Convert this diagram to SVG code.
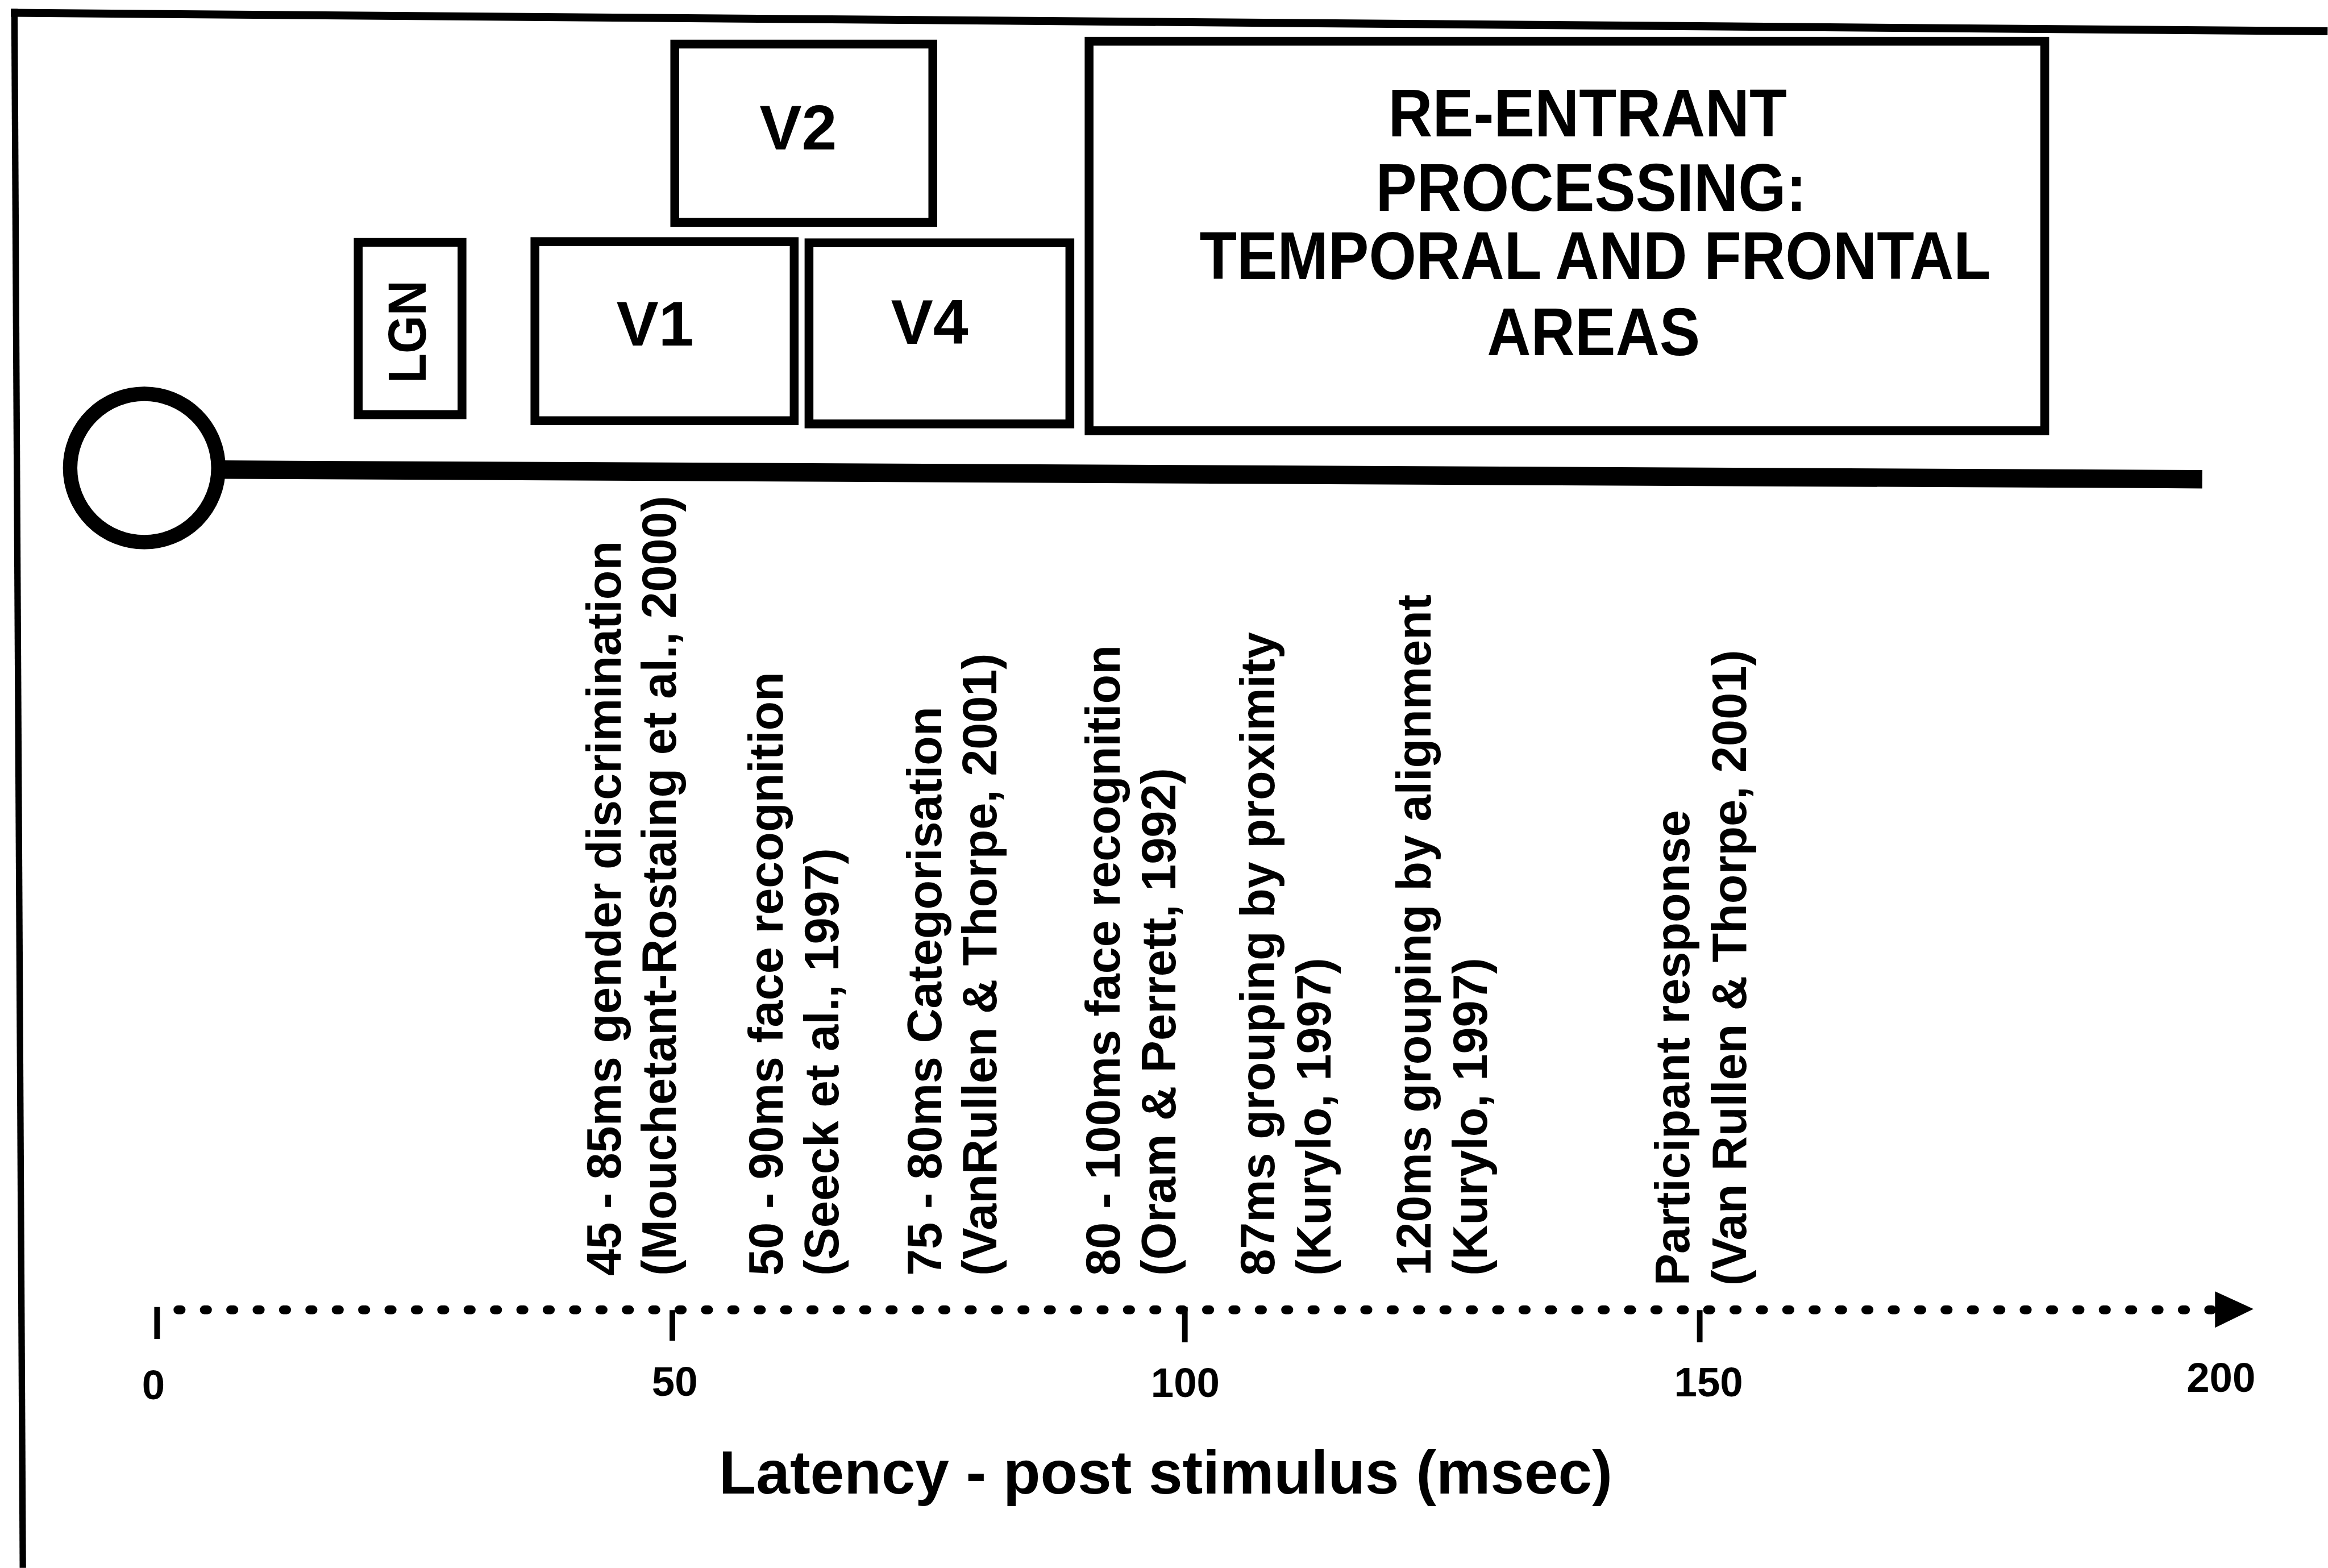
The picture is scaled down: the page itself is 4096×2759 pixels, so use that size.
<svg xmlns="http://www.w3.org/2000/svg" width="4096" height="2759" viewBox="0 0 4096 2759">
<style>
text{font-family:"Liberation Sans",Arial,Helvetica,sans-serif;font-weight:bold;fill:#000}
.box{fill:#fff;stroke:#000;stroke-width:22}
.area{font-size:158px;text-anchor:middle}
.re{font-size:168px;text-anchor:middle}
.ev{font-size:120px}
.tk{font-size:103px;text-anchor:middle}
.title{font-size:152px;text-anchor:middle}
.ln{stroke:#000;fill:none}
</style>
<rect width="4096" height="2759" fill="#fff"/>
<g transform="scale(0.705)">
  <g id="frame">
    <line class="ln" x1="27" y1="32" x2="5809" y2="78" stroke-width="20"/>
    <line class="ln" x1="36" y1="22" x2="57" y2="3913" stroke-width="16"/>
  </g>
  <g id="connectors">
    <line class="ln" x1="545" y1="1172" x2="5496" y2="1196" stroke-width="46"/>
  </g>
  <g id="stimulus">
    <circle cx="360" cy="1168" r="185" fill="#fff" stroke="#000" stroke-width="36"/>
  </g>
  <g id="lgn">
    <rect class="box" x="894" y="605" width="259" height="430"/>
    <text class="area" style="font-size:135px" transform="translate(1063,828) rotate(-90)" textLength="257" lengthAdjust="spacingAndGlyphs">LGN</text>
  </g>
  <g id="v1">
    <rect class="box" x="1335" y="603" width="647" height="447"/>
    <text class="area" x="1635" y="862">V1</text>
  </g>
  <g id="v2">
    <rect class="box" x="1684" y="110" width="644" height="445"/>
    <text class="area" x="1992" y="373">V2</text>
  </g>
  <g id="v4">
    <rect class="box" x="2019" y="606" width="651" height="452"/>
    <text class="area" x="2320" y="858">V4</text>
  </g>
  <g id="reentrant">
    <rect class="box" x="2718" y="103" width="2385" height="972"/>
    <text class="re" x="3962" y="340" textLength="995" lengthAdjust="spacingAndGlyphs">RE-ENTRANT</text>
    <text class="re" x="3971" y="526" textLength="1075" lengthAdjust="spacingAndGlyphs">PROCESSING:</text>
    <text class="re" x="3981" y="696" textLength="1975" lengthAdjust="spacingAndGlyphs">TEMPORAL AND FRONTAL</text>
    <text class="re" x="3977" y="887" textLength="532" lengthAdjust="spacingAndGlyphs">AREAS</text>
  </g>
  <g id="axis">
    <line class="ln" x1="444" y1="3269" x2="5520" y2="3269" stroke-width="22" stroke-linecap="round" stroke-dasharray="8 57.82"/>
    <polygon points="5528,3223 5624,3267 5528,3314" fill="#000"/>
    <path class="ln" d="M392 3262V3342M1678 3270V3346M2957 3262V3350M4242 3270V3350" stroke-width="14"/>
    <text class="tk" x="383" y="3492">0</text>
    <text class="tk" x="1684" y="3483">50</text>
    <text class="tk" x="2958" y="3487">100</text>
    <text class="tk" x="4264" y="3485">150</text>
    <text class="tk" x="5543" y="3474">200</text>
    <text class="title" x="2909" y="3727">Latency - post stimulus (msec)</text>
  </g>
  <g id="ev1">
    <text class="ev" transform="translate(1549,3184) rotate(-90)">45 - 85ms gender discrimination</text>
    <text class="ev" transform="translate(1686,3184) rotate(-90)">(Mouchetant-Rostaing et al., 2000)</text>
  </g>
  <g id="ev2">
    <text class="ev" transform="translate(1953,3184) rotate(-90)">50 - 90ms face recognition</text>
    <text class="ev" transform="translate(2092,3184) rotate(-90)">(Seeck et al., 1997)</text>
  </g>
  <g id="ev3">
    <text class="ev" transform="translate(2349,3184) rotate(-90)">75 - 80ms Categorisation</text>
    <text class="ev" transform="translate(2486,3184) rotate(-90)">(VanRullen &amp; Thorpe, 2001)</text>
  </g>
  <g id="ev4">
    <text class="ev" transform="translate(2795,3184) rotate(-90)">80 - 100ms face recognition</text>
    <text class="ev" transform="translate(2934,3184) rotate(-90)">(Oram &amp; Perrett, 1992)</text>
  </g>
  <g id="ev5">
    <text class="ev" transform="translate(3180,3184) rotate(-90)">87ms grouping by proximity</text>
    <text class="ev" transform="translate(3320,3184) rotate(-90)">(Kurylo, 1997)</text>
  </g>
  <g id="ev6">
    <text class="ev" transform="translate(3570,3184) rotate(-90)">120ms grouping by alignment</text>
    <text class="ev" transform="translate(3710,3184) rotate(-90)">(Kurylo, 1997)</text>
  </g>
  <g id="ev7">
    <text class="ev" transform="translate(4215,3209) rotate(-90)">Participant response</text>
    <text class="ev" transform="translate(4358,3209) rotate(-90)">(Van Rullen &amp; Thorpe, 2001)</text>
  </g>
</g>
</svg>
